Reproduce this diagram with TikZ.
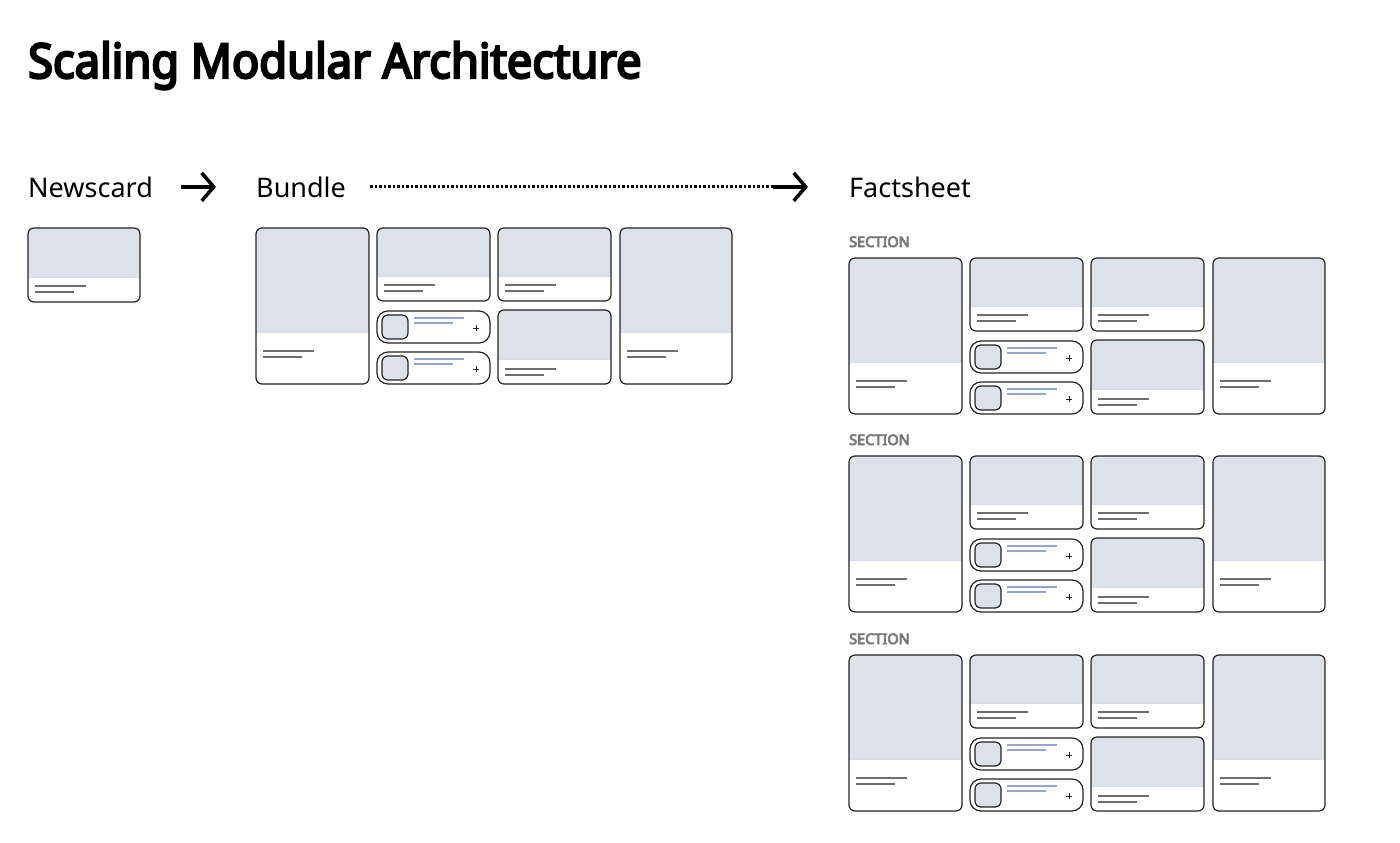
\documentclass[tikz,border=0pt]{standalone}
\usepackage{fontspec}
\setmainfont{Noto Sans}[AutoFakeBold=5]
\usetikzlibrary{arrows.meta}

\definecolor{imgfill}{RGB}{221,225,233}
\definecolor{framecol}{RGB}{34,34,34}
\definecolor{txtcol}{RGB}{110,110,110}
\definecolor{bluecol}{RGB}{150,166,202}
\definecolor{seccol}{RGB}{120,120,120}

% card: x, y, width, height, image height, gap to text lines
\newcommand{\card}[6]{%
\fill [white, rounded corners=6pt] (#1,#2) rectangle ++(#3,#4);
\begin{scope}
\clip [rounded corners=6pt] (#1,#2) rectangle ++(#3,#4);
\fill [imgfill] (#1,#2) rectangle ++(#3,#5);
\end{scope}
\draw [bluecol!40, line width=0.8pt] (#1,#2+#5) -- ++(#3,0);
\draw [txtline] (#1+7,#2+#5+#6) -- ++(51,0);
\draw [txtline] (#1+7,#2+#5+#6+6) -- ++(39,0);
\draw [frame] (#1,#2) rectangle ++(#3,#4);
}
% small list card: x, y
\newcommand{\minicard}[2]{%
\draw [frame, fill=white, rounded corners=11pt] (#1,#2) rectangle ++(113,32);
\draw [frame, fill=imgfill, rounded corners=6pt] (#1+5,#2+4) rectangle ++(26,24);
\draw [blueline] (#1+37,#2+7) -- ++(50,0);
\draw [blueline] (#1+37,#2+12) -- ++(39,0);
\draw [framecol, line width=1pt] (#1+96,#2+17) -- ++(6,0);
\draw [framecol, line width=1pt] (#1+99,#2+14) -- ++(0,6);
}
% bundle grid: x, y
\newcommand{\bundlegrid}[2]{%
\card{#1}{#2}{113}{156}{104}{19}
\card{#1+121}{#2}{113}{73}{48}{9}
\minicard{#1+121}{#2+83}
\minicard{#1+121}{#2+124}
\card{#1+242}{#2}{113}{73}{48}{9}
\card{#1+242}{#2+82}{113}{74}{49}{10}
\card{#1+364}{#2}{112}{156}{104}{19}
}

\begin{document}
\begin{tikzpicture}[x=1pt,y=-1pt]
\tikzstyle{every node}+=[inner sep=0pt]
\tikzstyle{frame}=[framecol, line width=1.2pt, rounded corners=6pt]
\tikzstyle{txtline}=[txtcol, line width=1.5pt]
\tikzstyle{blueline}=[bluecol, line width=1.1pt]
\tikzstyle{label}=[anchor=base west, font=\fontsize{27}{32}\selectfont]
\tikzstyle{seclabel}=[anchor=base west, text=seccol, font=\fontsize{14.5}{17}\selectfont\bfseries]
\tikzstyle{arr}=[black, line width=3.5pt, -{Straight Barb[length=12pt, width=28pt, line width=3.5pt]}]
\useasboundingbox (0,0) rectangle (1400,843);

\node [anchor=base west, font=\fontsize{48}{56}\selectfont\bfseries] (title) at (28,78) {\scalebox{0.942}[1]{Scaling Modular Architecture}};

\node [label] (newscard) at (28,197) {Newscard};
\node [label] (bundle) at (256,197) {Bundle};
\node [label] (factsheet) at (849,197) {Factsheet};

\draw [arr, shorten <=28pt, shorten >=40pt] (newscard.east) -- (bundle.west);
\coordinate (dotend) at ([xshift=-76pt]factsheet.west);
\draw [black, line width=3pt, dash pattern=on 2.5pt off 2pt, shorten <=24pt] (bundle.east) -- (dotend);
\draw [arr, shorten >=41pt] (dotend) -- (factsheet.west);

% newscard
\card{28}{228}{112}{74}{49}{9}

% bundle
\bundlegrid{256}{228}

% factsheet sections
\foreach \i/\sy in {1/258,2/456,3/655}{
\node [seclabel] (sec\i) at (849,\sy-11) {SECTION};
\bundlegrid{849}{\sy}
}
\end{tikzpicture}
\end{document}
